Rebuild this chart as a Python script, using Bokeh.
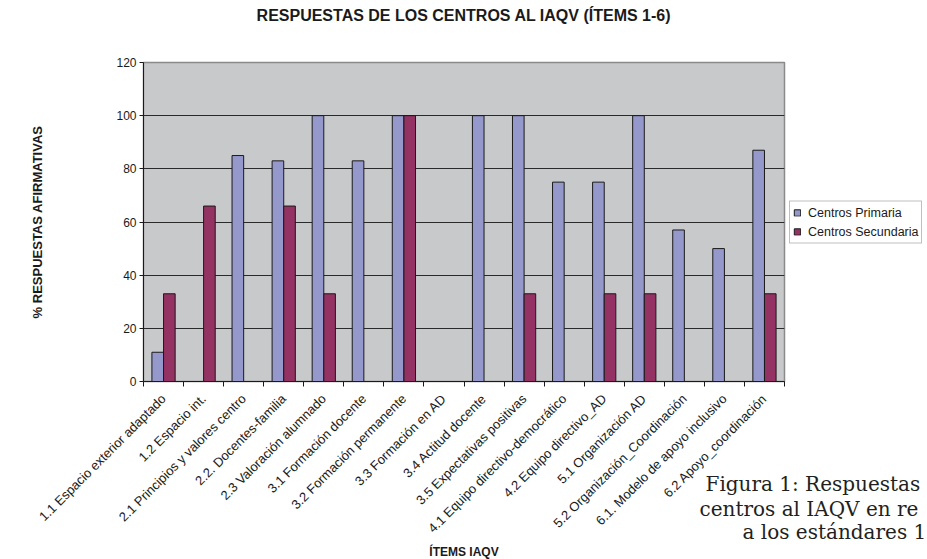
import math
from bokeh.plotting import figure
from bokeh.models import (ColumnDataSource, Range1d, FixedTicker, Legend, LegendItem, Title)
from bokeh.transform import dodge
from bokeh.embed import file_html
from bokeh.resources import INLINE

# ---------------- data ----------------
categories = [
    "1.1 Espacio exterior adaptado",
    "1.2 Espacio int.",
    "2.1 Principios y valores centro",
    "2.2. Docentes-familia",
    "2.3 Valoración alumnado",
    "3.1 Formación docente",
    "3.2 Formación permanente",
    "3.3 Formación en AD",
    "3.4 Actitud docente",
    "3.5 Expectativas positivas",
    "4.1 Equipo directivo-democrático",
    "4.2 Equipo directivo_AD",
    "5.1 Organización AD",
    "5.2 Organización_Coordinación",
    "6.1. Modelo de apoyo inclusivo",
    "6.2 Apoyo_coordinación",
]
primaria = [11, 0, 85, 83, 100, 83, 100, 0, 100, 100, 75, 75, 100, 57, 50, 87]
secundaria = [33, 66, 0, 66, 33, 0, 100, 0, 0, 33, 0, 33, 33, 0, 0, 33]
series_names = ["Centros Primaria", "Centros Secundaria"]
y_ticks = [0, 20, 40, 60, 80, 100, 120]
grid_ticks = [20, 40, 60, 80, 100]
title_text = "RESPUESTAS DE LOS CENTROS AL IAQV (ÍTEMS 1-6)"
x_title = "ÍTEMS IAQV"
y_title = "% RESPUESTAS AFIRMATIVAS"
caption_lines = ["Figura 1: Respuestas", "centros al IAQV en re", "a los estándares 1"]

# ---------------- styling / layout ----------------
FONT = "Liberation Sans"
W, H = 927, 559
FRAME_L, FRAME_T, FRAME_W, FRAME_H = 143, 62, 641, 319
BLUE = "#9598CB"
RED = "#943263"

xs = [i + 0.5 for i in range(len(categories))]
src = ColumnDataSource(dict(x=xs, cat=categories, primaria=primaria, secundaria=secundaria))

p = figure(frame_width=FRAME_W, frame_height=FRAME_H,
           output_backend="svg", toolbar_location=None,
           x_range=Range1d(0, len(categories)), y_range=Range1d(0, 120),
           min_border_left=FRAME_L, min_border_top=FRAME_T,
           min_border_right=W - FRAME_L - FRAME_W,
           min_border_bottom=H - FRAME_T - FRAME_H)

p.background_fill_color = "#C8C9CB"
p.border_fill_color = "white"
p.outline_line_color = "#8a8a8a"
p.outline_line_width = 1.5

# title: a blank spacer next to the plot area, the real title above it
spacer = Title(text=" ", text_font_size="1px", standoff=36)
p.add_layout(spacer, "above")
main_title = Title(text=title_text, align="center", text_font=FONT, text_font_size="16px",
                   text_font_style="bold", text_color="#1a1a1a", standoff=0)
p.add_layout(main_title, "above")

# bars
bw = 0.29
r1 = p.vbar(x=dodge("x", -bw / 2), top="primaria", width=bw, source=src,
            fill_color=BLUE, line_color="#1a1a1a", line_width=1)
r2 = p.vbar(x=dodge("x", bw / 2), top="secundaria", width=bw, source=src,
            fill_color=RED, line_color="#1a1a1a", line_width=1)

# grid
p.xgrid.visible = False
p.ygrid.ticker = FixedTicker(ticks=grid_ticks)
p.ygrid.grid_line_color = "#2a2a2a"
p.ygrid.grid_line_width = 1

# x axis
xa = p.xaxis[0]
xa.ticker = FixedTicker(ticks=xs, minor_ticks=list(range(len(categories) + 1)))
xa.major_label_overrides = {x: c for x, c in zip(xs, categories)}
xa.major_tick_out = 0
xa.major_tick_in = 0
xa.minor_tick_out = 5
xa.minor_tick_in = 0
xa.minor_tick_line_color = "#1a1a1a"
xa.axis_line_color = "#1a1a1a"
xa.major_label_orientation = math.pi / 4
xa.major_label_text_font = FONT
xa.major_label_text_font_size = "13px"
xa.major_label_text_color = "#1a1a1a"
xa.major_label_standoff = 10
xa.axis_label = x_title
xa.axis_label_text_font = FONT
xa.axis_label_text_font_size = "12px"
xa.axis_label_text_font_style = "bold"
xa.axis_label_text_color = "#1a1a1a"
xa.axis_label_standoff = 1

# y axis
ya = p.yaxis[0]
ya.ticker = FixedTicker(ticks=y_ticks)
ya.major_tick_out = 4
ya.major_tick_in = 0
ya.minor_tick_out = 0
ya.minor_tick_in = 0
ya.major_tick_line_color = "#1a1a1a"
ya.axis_line_color = "#1a1a1a"
ya.major_label_text_font = FONT
ya.major_label_text_font_size = "12px"
ya.major_label_text_color = "#1a1a1a"
ya.major_label_standoff = 3
ya.axis_label = y_title
ya.axis_label_text_font = FONT
ya.axis_label_text_font_size = "13px"
ya.axis_label_text_font_style = "bold"
ya.axis_label_text_color = "#1a1a1a"
ya.axis_label_standoff = 68

# legend to the right of the plot area (kept narrower than the right border)
legend = Legend(items=[LegendItem(label=series_names[0], renderers=[r1]),
                       LegendItem(label=series_names[1], renderers=[r2])],
                location="center_left", margin=5, padding=3, spacing=3,
                glyph_width=8, glyph_height=8, label_height=16, label_standoff=7,
                label_text_font=FONT, label_text_font_size="12.5px",
                label_text_color="#1a1a1a",
                border_line_color="#7f7f7f", border_line_width=1,
                background_fill_color="white", background_fill_alpha=1.0)
p.add_layout(legend, "right")

# caption fragment of the page, under the chart at the right
CAP_FONT = "DejaVu Serif"
cap_offsets = [562, 556, 599]
cap_standoffs = [-179, -130, -83]
for off, so, line in zip(cap_offsets, cap_standoffs, caption_lines):
    p.add_layout(Title(text=line, align="left", vertical_align="top", offset=off,
                       standoff=so, text_font=CAP_FONT, text_font_size="20px",
                       text_font_style="normal", text_color="#231f20"), "below")

open("out.html", "w").write(file_html(p, INLINE))
